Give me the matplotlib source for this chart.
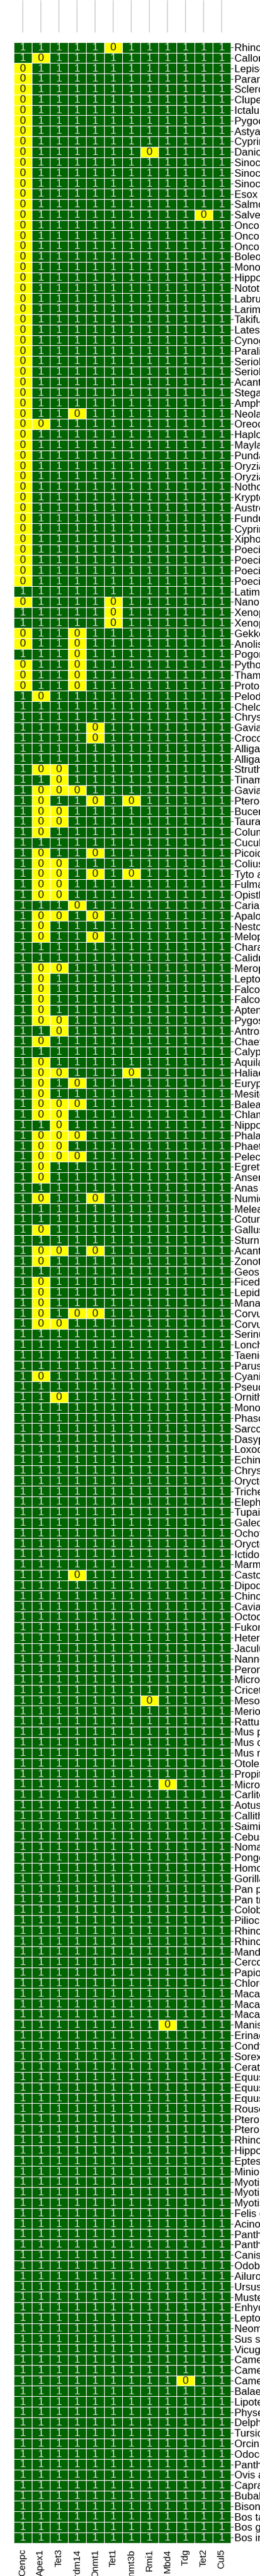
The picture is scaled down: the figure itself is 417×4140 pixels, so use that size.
import numpy as np
import matplotlib
matplotlib.use('Agg')
import matplotlib.pyplot as plt
from matplotlib.colors import ListedColormap

# 基因（列）
genes = ['Cenpc', 'Apex1', 'Tet3', 'Prdm14', 'Dnmt1', 'Tet1',
         'Dnmt3b', 'Rmi1', 'Mbd4', 'Tdg', 'Tet2', 'Cul5']

# 物种（行，从上到下）
species = [
    'Rhincodon typus', 'Callorhinchus milii', 'Lepisosteus oculatus', 'Paramormyrops kingsleyae',
    'Scleropages formosus', 'Clupea harengus', 'Ictalurus punctatus', 'Pygocentrus nattereri',
    'Astyanax mexicanus', 'Cyprinus carpio', 'Danio rerio', 'Sinocyclocheilus grahami',
    'Sinocyclocheilus rhinocerous', 'Sinocyclocheilus anshuiensis', 'Esox lucius', 'Salmo salar',
    'Salvelinus alpinus', 'Oncorhynchus kisutch', 'Oncorhynchus mykiss', 'Oncorhynchus tshawytscha',
    'Boleophthalmus pectinirostris', 'Monopterus albus', 'Hippocampus comes', 'Notothenia coriiceps',
    'Labrus bergylta', 'Larimichthys crocea', 'Takifugu rubripes', 'Lates calcarifer',
    'Cynoglossus semilaevis', 'Paralichthys olivaceus', 'Seriola dumerili', 'Seriola lalandi',
    'Acanthochromis polyacanthus', 'Stegastes partitus', 'Amphiprion ocellaris', 'Neolamprologus brichardi',
    'Oreochromis niloticus', 'Haplochromis burtoni', 'Maylandia zebra', 'Pundamilia nyererei',
    'Oryzias latipes', 'Oryzias melastigma', 'Nothobranchius furzeri', 'Kryptolebias marmoratus',
    'Austrofundulus limnaeus', 'Fundulus heteroclitus', 'Cyprinodon variegatus', 'Xiphophorus maculatus',
    'Poecilia formosa', 'Poecilia latipinna', 'Poecilia mexicana', 'Poecilia reticulata',
    'Latimeria chalumnae', 'Nanorana parkeri', 'Xenopus laevis', 'Xenopus tropicalis',
    'Gekko japonicus', 'Anolis carolinensis', 'Pogona vitticeps', 'Python bivittatus',
    'Thamnophis sirtalis', 'Protobothrops mucrosquamatus', 'Pelodiscus sinensis', 'Chelonia mydas',
    'Chrysemys picta', 'Gavialis gangeticus', 'Crocodylus porosus', 'Alligator mississippiensis',
    'Alligator sinensis', 'Struthio camelus', 'Tinamus guttatus', 'Gavia stellata',
    'Pterocles gutturalis', 'Buceros rhinoceros', 'Tauraco erythrolophus', 'Columba livia',
    'Cuculus canorus', 'Picoides pubescens', 'Colius striatus', 'Tyto alba',
    'Fulmarus glacialis', 'Opisthocomus hoazin', 'Cariama cristata', 'Apaloderma vittatum',
    'Nestor notabilis', 'Melopsittacus undulatus', 'Charadrius vociferus', 'Calidris pugnax',
    'Merops nubicus', 'Leptosomus discolor', 'Falco cherrug', 'Falco peregrinus',
    'Aptenodytes forsteri', 'Pygoscelis adeliae', 'Antrostomus carolinensis', 'Chaetura pelagica',
    'Calypte anna', 'Aquila chrysaetos', 'Haliaeetus leucocephalus', 'Eurypyga helias',
    'Mesitornis unicolor', 'Balearica regulorum', 'Chlamydotis macqueenii', 'Nipponia nippon',
    'Phalacrocorax carbo', 'Phaethon lepturus', 'Pelecanus crispus', 'Egretta garzetta',
    'Anser cygnoides', 'Anas platyrhynchos', 'Numida meleagris', 'Meleagris gallopavo',
    'Coturnix japonica', 'Gallus gallus', 'Sturnus vulgaris', 'Acanthisitta chloris',
    'Zonotrichia albicollis', 'Geospiza fortis', 'Ficedula albicollis', 'Lepidothrix coronata',
    'Manacus vitellinus', 'Corvus brachyrhynchos', 'Corvus cornix', 'Serinus canaria',
    'Lonchura striata', 'Taeniopygia guttata', 'Parus major', 'Cyanistes caeruleus',
    'Pseudopodoces humilis', 'Ornithorhynchus anatinus', 'Monodelphis domestica', 'Phascolarctos cinereus',
    'Sarcophilus harrisii', 'Dasypus novemcinctus', 'Loxodonta africana', 'Echinops telfairi',
    'Chrysochloris asiatica', 'Orycteropus afer', 'Trichechus manatus', 'Elephantulus edwardii',
    'Tupaia chinensis', 'Galeopterus variegatus', 'Ochotona princeps', 'Oryctolagus cuniculus',
    'Ictidomys tridecemlineatus', 'Marmota marmota', 'Castor canadensis', 'Dipodomys ordii',
    'Chinchilla lanigera', 'Cavia porcellus', 'Octodon degus', 'Fukomys damarensis',
    'Heterocephalus glaber', 'Jaculus jaculus', 'Nannospalax galili', 'Peromyscus maniculatus',
    'Microtus ochrogaster', 'Cricetulus griseus', 'Mesocricetus auratus', 'Meriones unguiculatus',
    'Rattus norvegicus', 'Mus pahari', 'Mus caroli', 'Mus musculus',
    'Otolemur garnettii', 'Propithecus coquereli', 'Microcebus murinus', 'Carlito syrichta',
    'Aotus nancymaae', 'Callithrix jacchus', 'Saimiri boliviensis', 'Cebus capucinus',
    'Nomascus leucogenys', 'Pongo abelii', 'Homo sapiens', 'Gorilla gorilla',
    'Pan paniscus', 'Pan troglodytes', 'Colobus angolensis', 'Piliocolobus tephrosceles',
    'Rhinopithecus roxellana', 'Rhinopithecus bieti', 'Mandrillus leucophaeus', 'Cercocebus atys',
    'Papio anubis', 'Chlorocebus sabaeus', 'Macaca nemestrina', 'Macaca mulatta',
    'Macaca fascicularis', 'Manis javanica', 'Erinaceus europaeus', 'Condylura cristata',
    'Sorex araneus', 'Ceratotherium simum', 'Equus asinus', 'Equus caballus',
    'Equus przewalskii', 'Rousettus aegyptiacus', 'Pteropus alecto', 'Pteropus vampyrus',
    'Rhinolophus sinicus', 'Hipposideros armiger', 'Eptesicus fuscus', 'Miniopterus natalensis',
    'Myotis brandtii', 'Myotis davidii', 'Myotis lucifugus', 'Felis catus',
    'Acinonyx jubatus', 'Panthera pardus', 'Panthera tigris', 'Canis lupus',
    'Odobenus rosmarus', 'Ailuropoda melanoleuca', 'Ursus maritimus', 'Mustela putorius',
    'Enhydra lutris', 'Leptonychotes weddellii', 'Neomonachus schauinslandi', 'Sus scrofa',
    'Vicugna pacos', 'Camelus ferus', 'Camelus bactrianus', 'Camelus dromedarius',
    'Balaenoptera acutorostrata', 'Lipotes vexillifer', 'Physeter catodon', 'Delphinapterus leucas',
    'Tursiops truncatus', 'Orcinus orca', 'Odocoileus virginianus', 'Pantholops hodgsonii',
    'Ovis aries', 'Capra hircus', 'Bubalus bubalis', 'Bison bison',
    'Bos taurus', 'Bos grunniens', 'Bos indicus',
]

# 每个基因缺失（值为0）的物种，其余为1
cenpc_absent = species[2:52] + [
    'Nanorana parkeri', 'Gekko japonicus', 'Anolis carolinensis', 'Python bivittatus',
    'Thamnophis sirtalis', 'Protobothrops mucrosquamatus']
apex1_absent = [
    'Callorhinchus milii', 'Oreochromis niloticus', 'Pelodiscus sinensis', 'Struthio camelus',
    'Gavia stellata', 'Pterocles gutturalis', 'Buceros rhinoceros', 'Tauraco erythrolophus',
    'Columba livia', 'Picoides pubescens', 'Colius striatus', 'Tyto alba', 'Fulmarus glacialis',
    'Opisthocomus hoazin', 'Apaloderma vittatum', 'Nestor notabilis', 'Melopsittacus undulatus',
    'Merops nubicus', 'Leptosomus discolor', 'Falco cherrug', 'Falco peregrinus',
    'Aptenodytes forsteri', 'Pygoscelis adeliae', 'Chaetura pelagica', 'Aquila chrysaetos',
    'Haliaeetus leucocephalus', 'Eurypyga helias', 'Mesitornis unicolor', 'Balearica regulorum',
    'Chlamydotis macqueenii', 'Phalacrocorax carbo', 'Phaethon lepturus', 'Pelecanus crispus',
    'Egretta garzetta', 'Anser cygnoides', 'Numida meleagris', 'Gallus gallus',
    'Acanthisitta chloris', 'Zonotrichia albicollis', 'Ficedula albicollis', 'Lepidothrix coronata',
    'Manacus vitellinus', 'Corvus brachyrhynchos', 'Corvus cornix', 'Cyanistes caeruleus']
tet3_absent = [
    'Struthio camelus', 'Tinamus guttatus', 'Gavia stellata', 'Buceros rhinoceros',
    'Tauraco erythrolophus', 'Colius striatus', 'Tyto alba', 'Fulmarus glacialis',
    'Opisthocomus hoazin', 'Apaloderma vittatum', 'Merops nubicus', 'Pygoscelis adeliae',
    'Antrostomus carolinensis', 'Haliaeetus leucocephalus', 'Balearica regulorum',
    'Chlamydotis macqueenii', 'Nipponia nippon', 'Phalacrocorax carbo', 'Phaethon lepturus',
    'Pelecanus crispus', 'Acanthisitta chloris', 'Corvus cornix', 'Ornithorhynchus anatinus']
prdm14_absent = [
    'Neolamprologus brichardi', 'Gekko japonicus', 'Anolis carolinensis', 'Pogona vitticeps',
    'Python bivittatus', 'Thamnophis sirtalis', 'Protobothrops mucrosquamatus', 'Gavia stellata',
    'Cariama cristata', 'Eurypyga helias', 'Balearica regulorum', 'Phalacrocorax carbo',
    'Pelecanus crispus', 'Corvus brachyrhynchos', 'Castor canadensis']
dnmt1_absent = [
    'Gavialis gangeticus', 'Crocodylus porosus', 'Pterocles gutturalis', 'Picoides pubescens',
    'Tyto alba', 'Apaloderma vittatum', 'Melopsittacus undulatus', 'Numida meleagris',
    'Acanthisitta chloris', 'Corvus brachyrhynchos']
tet1_absent = ['Rhincodon typus', 'Nanorana parkeri', 'Xenopus laevis', 'Xenopus tropicalis']
dnmt3b_absent = ['Pterocles gutturalis', 'Tyto alba', 'Haliaeetus leucocephalus']
rmi1_absent = ['Danio rerio', 'Mesocricetus auratus']
mbd4_absent = ['Microcebus murinus', 'Manis javanica']
tdg_absent = ['Camelus dromedarius']
tet2_absent = ['Salvelinus alpinus']
cul5_absent = []

absent = [cenpc_absent, apex1_absent, tet3_absent, prdm14_absent, dnmt1_absent, tet1_absent,
          dnmt3b_absent, rmi1_absent, mbd4_absent, tdg_absent, tet2_absent, cul5_absent]

mat = np.ones((len(species), len(genes)), dtype=int)
for j, names in enumerate(absent):
    for s in names:
        mat[species.index(s), j] = 0

W, H = 417, 4140
fig = plt.figure(figsize=(W / 100, H / 100), dpi=100)

left, right = 21.7, 370.0
top, bottom = 67.7, 4086.7
ax = fig.add_axes([left / W, 1 - bottom / H, (right - left) / W, (bottom - top) / H])

cmap = ListedColormap(['#FFFF00', '#006400'])
ax.pcolormesh(mat, cmap=cmap, vmin=0, vmax=1, edgecolors='white', linewidth=0.6)
ax.set_xlim(0, len(genes))
ax.set_ylim(len(species), 0)

# 单元格数字
for i in range(len(species)):
    for j in range(len(genes)):
        v = mat[i, j]
        ax.text(j + 0.5, i + 0.52, str(v), ha='center', va='center',
                fontsize=12.5, family=['Liberation Sans Narrow', 'Liberation Sans'],
                color='#d9d9d9' if v == 1 else '#1a1a1a')

ax.set_xticks(np.arange(len(genes)) + 0.5)
ax.set_xticklabels(genes, rotation=90, fontsize=11, family='Liberation Sans')
ax.set_yticks(np.arange(len(species)) + 0.5)
ax.set_yticklabels(species, fontsize=12, family=['Liberation Sans Narrow', 'Liberation Sans'])
ax.yaxis.tick_right()
ax.tick_params(axis='y', length=3, width=0.7, color='#333333', pad=1)
ax.tick_params(axis='x', length=0, pad=7)
for sp in ax.spines.values():
    sp.set_visible(False)

# 顶部聚类树的竖线
dax = fig.add_axes([left / W, 1 - 52 / H, (right - left) / W, 52 / H])
dax.vlines(np.arange(len(genes)) + 0.5, 0, 1, color='#c8c8c8', linewidth=1)
dax.set_xlim(0, len(genes))
dax.set_ylim(0, 1)
dax.axis('off')

fig.savefig('out.png', dpi=100)
